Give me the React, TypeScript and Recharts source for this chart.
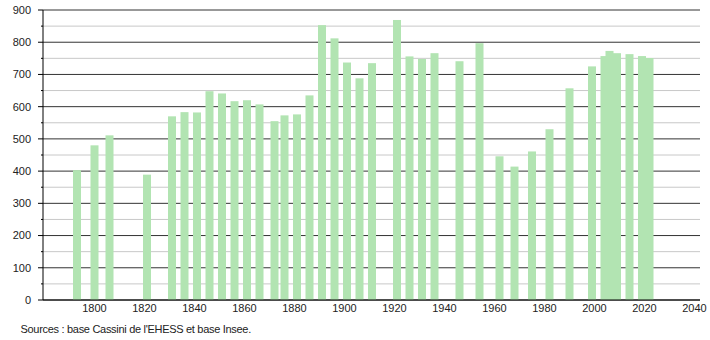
import { BarChart, Bar, XAxis, YAxis, CartesianGrid } from 'recharts';

// census years and population
const years = [
  1793, 1800, 1806, 1821, 1831, 1836, 1841, 1846, 1851, 1856,
  1861, 1866, 1872, 1876, 1881, 1886, 1891, 1896, 1901, 1906,
  1911, 1921, 1926, 1931, 1936, 1946, 1954, 1962, 1968, 1975,
  1982, 1990, 1999, 2004, 2006, 2009, 2014, 2019, 2022,
];
const population = [
  403, 480, 511, 389, 570, 583, 582, 648, 641, 617,
  620, 607, 555, 573, 576, 635, 853, 812, 737, 688,
  735, 869, 756, 748, 766, 741, 797, 446, 414, 461,
  530, 657, 725, 757, 773, 766, 763, 757, 751,
];

const xTicks = [1800, 1820, 1840, 1860, 1880, 1900, 1920, 1940, 1960, 1980, 2000, 2020, 2040];
const majorTicks = [0, 100, 200, 300, 400, 500, 600, 700, 800, 900];
const minorTicks = [50, 150, 250, 350, 450, 550, 650, 750, 850];
const yTicks = [...majorTicks, ...minorTicks].sort((a, b) => a - b);

const sourceText = "Sources : base Cassini de l'EHESS et base Insee.";

const data = years.map((y, i) => ({ year: y, pop: population[i] }));

const BAR_W = 8;
const Y_MARGIN = 12;

const BarShape = (props: any) => {
  const { x, y, width, height } = props;
  if (height == null || height <= 0) return null;
  const cx = x + width / 2;
  return <rect x={cx - BAR_W / 2} y={y} width={BAR_W} height={height} fill="#b2e4b2" />;
};

const YTick = (props: any) => {
  const { x, y, payload } = props;
  const v = payload.value;
  const major = v % 100 === 0;
  const axisX = x + Y_MARGIN;
  return (
    <g>
      <line x1={axisX - (major ? 5 : 2)} x2={axisX} y1={y} y2={y} stroke="#000" />
      {major && (
        <text x={x} y={y} dy="0.355em" textAnchor="end" fontSize={11} fill="#222">
          {v}
        </text>
      )}
    </g>
  );
};

export default function App() {
  return (
    <div
      style={{
        position: 'absolute',
        left: 0,
        top: 0,
        width: 710,
        height: 340,
        background: '#fff',
        fontFamily: '"Liberation Sans", Arial, sans-serif',
      }}
    >
      <BarChart width={710} height={320} data={data} margin={{ top: 10, right: 10, bottom: 4, left: 0 }}>
        <CartesianGrid vertical={false} horizontalValues={minorTicks} stroke="#c8c8c8" />
        <CartesianGrid vertical={false} horizontalValues={majorTicks} stroke="#333" />
        <XAxis
          dataKey="year"
          type="number"
          domain={[1779.4, 2042.2]}
          ticks={xTicks}
          allowDataOverflow
          tickLine={false}
          tickSize={0}
          tickMargin={4}
          height={16}
          axisLine={{ stroke: '#000' }}
          tick={{ fontSize: 11, fill: '#222' }}
        />
        <YAxis
          domain={[0, 900]}
          ticks={yTicks}
          interval={0}
          width={43}
          tickLine={false}
          tickSize={0}
          tickMargin={Y_MARGIN}
          axisLine={{ stroke: '#000' }}
          tick={<YTick />}
        />
        <Bar dataKey="pop" shape={<BarShape />} isAnimationActive={false} />
      </BarChart>
      <div
        style={{
          position: 'absolute',
          left: 20.5,
          top: 322.7,
          fontSize: 11,
          lineHeight: '13px',
          letterSpacing: '-0.3px',
          color: '#222',
          whiteSpace: 'nowrap',
        }}
      >
        {sourceText}
      </div>
    </div>
  );
}
